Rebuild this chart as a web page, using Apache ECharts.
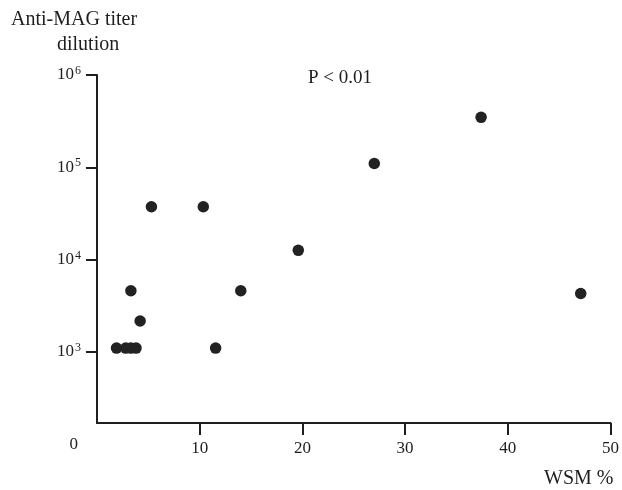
<!DOCTYPE html>
<html>
<head>
<meta charset="utf-8">
<script src="https://cdn.jsdelivr.net/npm/echarts@6/dist/echarts.min.js"></script>
<style>
  html, body { margin: 0; padding: 0; background: #fff; }
  #chart { width: 622px; height: 490px; }
</style>
</head>
<body>
<div id="chart"></div>
<script>
// WSM % (x) and anti-MAG titer dilution (y, log scale)
var wsmPercent = [1.9, 2.8, 3.3, 3.8, 3.3, 4.2, 5.3, 10.35, 11.55, 14.0, 19.6, 27.0, 37.4, 47.1];
var titerDilution = [1100, 1100, 1100, 1100, 4600, 2160, 37400, 37400, 1100, 4600, 12600, 110000, 348000, 4300];
var xTicks = [10, 20, 30, 40, 50];
var yTickExponents = [3, 4, 5, 6];
var yAxisBottom = 2.23; // log10 position of the axis origin (labelled "0")

var FONT = '"Liberation Serif", "DejaVu Serif", serif';
var INK = '#1e1e1e';

var points = wsmPercent.map(function (w, i) {
  return [w, Math.log10(titerDilution[i])];
});

var chart = echarts.init(document.getElementById('chart'), null, { renderer: 'canvas' });
chart.setOption({
  backgroundColor: '#ffffff',
  animation: false,
  title: [
    { text: 'Anti-MAG titer', left: 6, top: 5,
      textStyle: { fontFamily: FONT, fontSize: 20, fontWeight: 'normal', color: INK } },
    { text: 'dilution', left: 52, top: 30,
      textStyle: { fontFamily: FONT, fontSize: 20, fontWeight: 'normal', color: INK } },
    { text: 'P < 0.01', left: 303, top: 64,
      textStyle: { fontFamily: FONT, fontSize: 19, fontWeight: 'normal', color: INK } }
  ],
  grid: { left: 97, right: 4, top: 75, bottom: 67, containLabel: false },
  xAxis: {
    type: 'value',
    min: 0, max: 50, interval: 10,
    name: 'WSM %',
    nameLocation: 'end',
    nameGap: 0,
    nameTextStyle: { fontFamily: FONT, fontSize: 20, color: INK, align: 'right',
                     verticalAlign: 'top', padding: [46, -3, 0, 0] },
    axisLine: { show: true, lineStyle: { color: INK, width: 2 } },
    axisTick: { show: true, length: 12, inside: false, lineStyle: { color: INK, width: 2 },
                customValues: xTicks },
    axisLabel: { fontFamily: FONT, fontSize: 17, color: INK, margin: 17,
                 customValues: xTicks },
    splitLine: { show: false }
  },
  yAxis: {
    type: 'value',
    min: yAxisBottom, max: 6,
    axisLine: { show: true, lineStyle: { color: INK, width: 2 } },
    axisTick: { show: true, length: 11, lineStyle: { color: INK, width: 2 },
                customValues: yTickExponents },
    axisLabel: {
      fontFamily: FONT, fontSize: 17, color: INK, margin: 16,
      customValues: [yAxisBottom].concat(yTickExponents),
      formatter: function (v) {
        if (Math.abs(v - yAxisBottom) < 1e-6) return '{z|0}';
        return '{b|10}{s|' + Math.round(v) + '}';
      },
      rich: {
        b: { fontFamily: FONT, fontSize: 17, color: INK },
        s: { fontFamily: FONT, fontSize: 12, color: INK, verticalAlign: 'top', padding: [0, 0, 8, 1] },
        z: { fontFamily: FONT, fontSize: 17, color: INK, padding: [44, 3, 0, 0] }
      }
    },
    splitLine: { show: false }
  },
  series: [{
    type: 'scatter',
    data: points,
    symbol: 'circle',
    symbolSize: 11.5,
    itemStyle: { color: '#222222', opacity: 1 },
    emphasis: { disabled: true }
  }]
});
</script>
</body>
</html>
